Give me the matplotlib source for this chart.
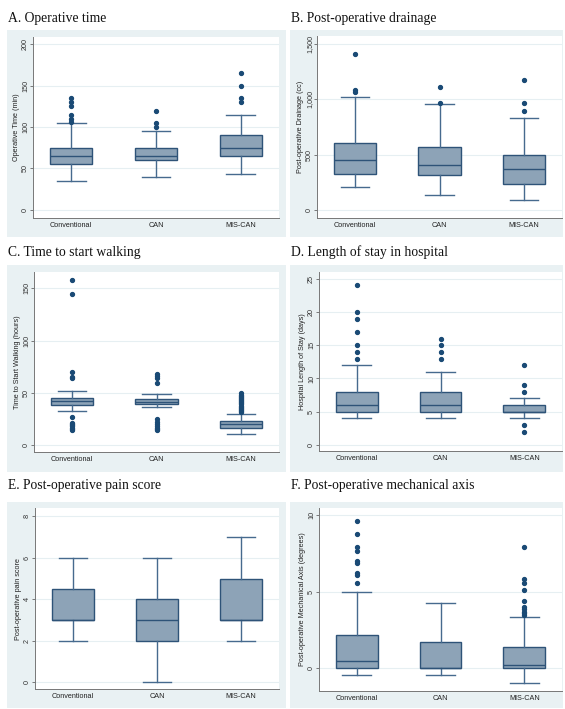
import matplotlib
matplotlib.use("Agg")
import matplotlib.pyplot as plt
from matplotlib.patches import Rectangle

W, H = 565, 709
groups = ["Conventional", "CAN", "MIS-CAN"]

# ---- data: (whislo, q1, med, q3, whishi) per group, outliers per group ----
titles = ["A. Operative time", "B. Post-operative drainage", "C. Time to start walking",
          "D. Length of stay in hospital", "E. Post-operative pain score",
          "F. Post-operative mechanical axis"]
ylabels = ["Operative Time (min)", "Post-operative Drainage (cc)",
           "Time to Start Walking (hours)", "Hospital Length of Stay (days)",
           "Post-operative pain score", "Post-operative Mechanical Axis (degrees)"]

op_time_stats = [[35, 55, 65, 75, 105], [40, 60, 65, 75, 95], [43, 65, 75, 90, 115]]
op_time_out = [[106, 110, 115, 125, 130, 135], [100, 105, 120], [130, 135, 150, 165]]

drain_stats = [[210, 330, 450, 607, 1018], [140, 314, 404, 566, 960], [96, 237, 368, 497, 829]]
drain_out = [[1062, 1082, 1407], [962, 1110], [895, 964, 1174]]

walk_stats = [[33, 38.5, 42, 45.5, 52], [37, 39.5, 41.7, 44.3, 49], [10.5, 17, 20, 23, 30]]
walk_out = [[15, 16, 17, 18, 19, 20, 21, 27, 64, 65, 70, 145, 158],
            [15, 16, 17, 18, 20, 22, 25, 60, 64, 66, 68],
            [32, 33, 34, 35, 36, 37, 38, 39, 40, 41, 42, 43, 44, 45, 46, 47, 48, 50]]

stay_stats = [[4, 5, 6, 8, 12], [4, 5, 6, 8, 11], [4, 5, 5, 6, 7]]
stay_out = [[13, 14, 15, 17, 19, 20, 24], [13, 14, 15, 16], [2, 3, 8, 9, 12]]

pain_stats = [[2, 3, 3, 4.5, 6], [0, 2, 3, 4, 6], [2, 3, 3, 5, 7]]
pain_out = [[], [], []]

axis_stats = [[-0.46, 0, 0.5, 2.18, 4.98], [-0.44, 0, 0, 1.75, 4.3], [-0.94, 0, 0.22, 1.38, 3.38]]
axis_out = [[5.6, 6.1, 6.25, 6.9, 7.0, 7.7, 7.9, 8.8, 9.6], [],
            [3.5, 3.6, 3.7, 3.85, 4.0, 4.4, 5.1, 5.55, 5.85, 7.9]]

all_stats = [op_time_stats, drain_stats, walk_stats, stay_stats, pain_stats, axis_stats]
all_out = [op_time_out, drain_out, walk_out, stay_out, pain_out, axis_out]

yticks = [[0, 50, 100, 150, 200], [0, 500, 1000, 1500], [0, 50, 100, 150],
          [0, 5, 10, 15, 20, 25], [0, 2, 4, 6, 8], [0, 5, 10]]
yticklabels = [["0", "50", "100", "150", "200"], ["0", "500", "1,000", "1,500"],
               ["0", "50", "100", "150"], ["0", "5", "10", "15", "20", "25"],
               ["0", "2", "4", "6", "8"], ["0", "5", "10"]]
ylims = [(-10, 209), (-69, 1569), (-6.4, 165.6), (-0.9, 26.0), (-0.32, 8.4), (-1.48, 10.48)]

# ---- layout (pixels) ----
bg_cols = [(7, 286), (290, 563)]
bg_rows = [(30, 237), (265, 472), (502, 708)]
ax_boxes = [(33, 279, 37, 218), (317, 562, 36, 218),
            (34, 279, 272, 452), (319, 562, 272, 451),
            (35, 279, 508, 689), (319, 562, 508, 691)]
title_pos = [(8, 22), (291, 22), (8, 256), (291, 256), (8, 489), (291, 489)]

BG = "#E9F1F3"
FILL = "#8DA3B7"
EDGE = "#2E5378"
WHISK = "#466A8E"
DOT = "#1A4A75"

fig = plt.figure(figsize=(W / 100, H / 100), dpi=100)
fig.patch.set_facecolor("white")

for r in bg_rows:
    for c in bg_cols:
        fig.patches.append(Rectangle((c[0] / W, 1 - r[1] / H), (c[1] - c[0]) / W, (r[1] - r[0]) / H,
                                     transform=fig.transFigure, facecolor=BG, edgecolor="none",
                                     zorder=-10))

for i in range(6):
    x0, x1, y0, y1 = ax_boxes[i]
    ax = fig.add_axes([x0 / W, 1 - y1 / H, (x1 - x0) / W, (y1 - y0) / H])
    ax.set_zorder(1)
    ax.set_facecolor("white")
    stats = []
    for g, s, o in zip(groups, all_stats[i], all_out[i]):
        stats.append(dict(label=g, whislo=s[0], q1=s[1], med=s[2], q3=s[3], whishi=s[4], fliers=o))
    ax.bxp(stats, positions=[1, 2, 3], widths=0.5, capwidths=0.34, patch_artist=True,
           boxprops=dict(facecolor=FILL, edgecolor=EDGE, linewidth=1.0),
           medianprops=dict(color=EDGE, linewidth=1.0),
           whiskerprops=dict(color=WHISK, linewidth=1.0),
           capprops=dict(color=WHISK, linewidth=1.0),
           flierprops=dict(marker="o", markerfacecolor=DOT, markeredgecolor=DOT, markersize=2.8,
                           linestyle="none"))
    ax.set_xlim(0.55, 3.45)
    ax.set_ylim(*ylims[i])
    ax.set_yticks(yticks[i])
    ax.set_yticklabels(yticklabels[i], rotation=90, va="center", fontsize=5.2,
                       family="Liberation Sans", color="#333333")
    ax.set_xticks([1, 2, 3])
    ax.set_xticklabels(groups, fontsize=5.2, family="Liberation Sans", color="#222222")
    ax.tick_params(axis="x", length=0, pad=3)
    ax.tick_params(axis="y", length=2.2, width=0.6, color="#666666", pad=0.6)
    ax.yaxis.grid(True, color="#E6EFF2", linewidth=0.8)
    ax.set_axisbelow(True)
    for sp in ["top", "right"]:
        ax.spines[sp].set_visible(False)
    for sp in ["left", "bottom"]:
        ax.spines[sp].set_color("#777777")
        ax.spines[sp].set_linewidth(0.7)
    ax.set_ylabel(ylabels[i], fontsize=5.2, family="Liberation Sans", color="#222222")
    ax.yaxis.set_label_coords(-12.5 / (x1 - x0), 0.5)
    tx, ty = title_pos[i]
    fig.text(tx / W, 1 - ty / H, titles[i], fontsize=9.8, family="Liberation Serif",
             ha="left", va="baseline", color="#111111")

fig.savefig("out.png", dpi=100)
